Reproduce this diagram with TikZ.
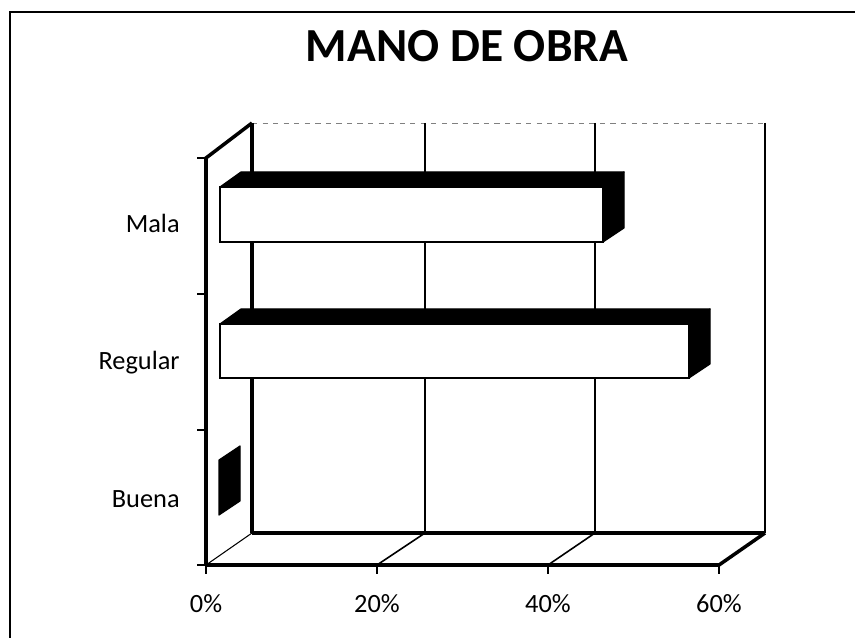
\documentclass[tikz,border=0pt]{standalone}
\usepackage{fontspec}
\setmainfont{Carlito}
\begin{document}
\begin{tikzpicture}[x=0.02cm,y=-0.02cm,
  heavy/.style={line width=2pt,black},
  thin/.style={line width=0.9pt,black},
  barface/.style={fill=white,draw=black,line width=0.7pt},
  barshade/.style={fill=black,draw=black,line width=0.7pt,line join=round},
  cat/.style={font=\fontsize{15}{17}\selectfont,anchor=base east,inner sep=0pt},
  pct/.style={font=\fontsize{15}{17}\selectfont,anchor=base,inner sep=0pt}]
\useasboundingbox (0,0) rectangle (855,638);
% frame (left and top edges visible)
\draw[line width=1.6pt] (10,638) -- (10,12) -- (855,12);
% title
\node[font=\bfseries\fontsize{27}{30}\selectfont,anchor=base,inner sep=0pt] (title) at (467,62) {MANO DE OBRA};
% back wall and grid
\draw[gray,dashed,line width=0.5pt] (252,123) -- (765,123);
\draw[thin] (425,123) -- (425,533);
\draw[thin] (595,123) -- (595,533);
\draw[thin] (765,123) -- (765,533);
\draw[heavy] (252,123) -- (252,533);
\draw[heavy] (252,533) -- (765,533);
% floor
\draw[line width=0.6pt] (206,565) -- (252,533);
\draw[thin] (377,565) -- (425,533);
\draw[thin] (548,565) -- (595,533);
\draw[heavy] (719,565) -- (765,533);
% side wall / axis
\draw[heavy] (206,565) -- (206,158) -- (252,123);
\draw[heavy] (206,565) -- (719,565);
% ticks
\foreach \y in {158,294,430,565} \draw[thin] (197,\y) -- (206,\y);
\foreach \x in {206,377,548,719} \draw[thin] (\x,565) -- (\x,574);
% bars
\filldraw[barshade] (220,187) -- (241,172) -- (624,172) -- (603,187) -- cycle;
\filldraw[barshade] (603,187) -- (624,172) -- (624,228) -- (603,242) -- cycle;
\draw[barface] (220,187) rectangle (603,242);
\filldraw[barshade] (220,324) -- (241,309) -- (710,309) -- (689,324) -- cycle;
\filldraw[barshade] (689,324) -- (710,309) -- (710,364) -- (689,378) -- cycle;
\draw[barface] (220,324) rectangle (689,378);
\filldraw[barshade] (219,460) -- (240,446) -- (240,501) -- (219,515) -- cycle;
% labels
\node[cat] (mala) at (180,233) {Mala};
\node[cat] (regular) at (180,370) {Regular};
\node[cat] (buena) at (180,507) {Buena};
\node[pct] (p0) at (206,612) {0\%};
\node[pct] (p20) at (377,612) {20\%};
\node[pct] (p40) at (548,612) {40\%};
\node[pct] (p60) at (719,612) {60\%};
\end{tikzpicture}
\end{document}
